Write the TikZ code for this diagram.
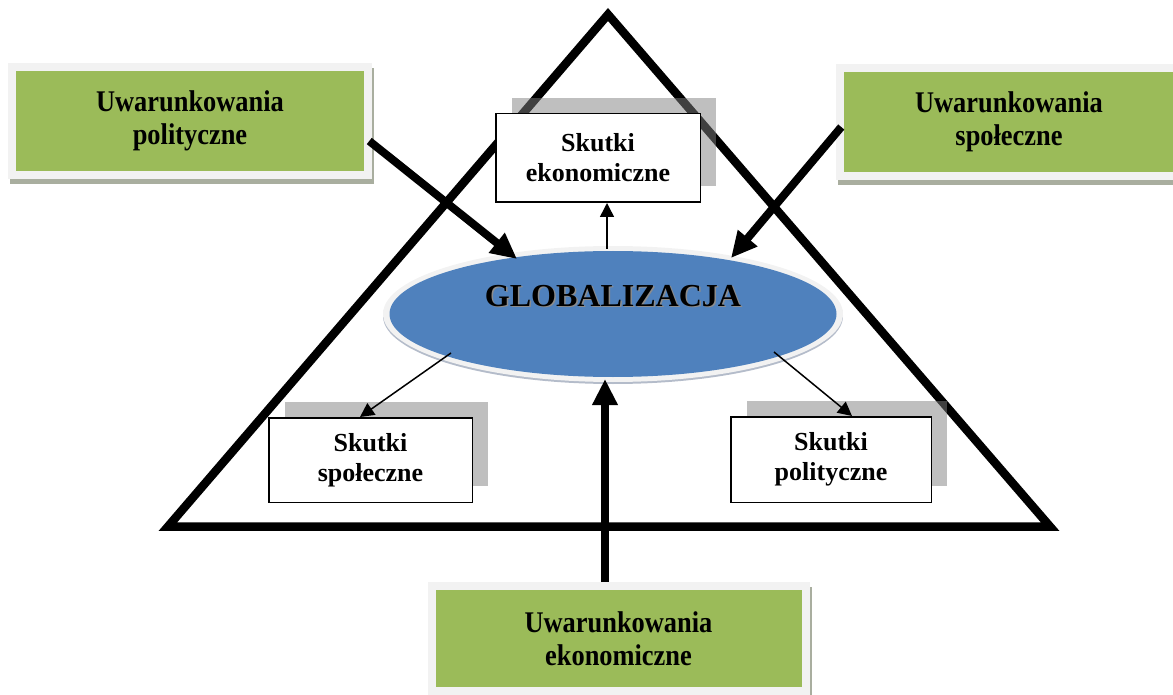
\documentclass[tikz,border=0pt]{standalone}
\usepackage{fontspec}
\setmainfont{Liberation Serif}
\newfontfamily\uwfont{Liberation Serif}[FakeStretch=0.88]
\usetikzlibrary{arrows.meta,shapes.geometric,shadows}
\definecolor{olive}{HTML}{9BBB59}
\definecolor{framegray}{HTML}{F2F2F2}
\definecolor{oliveshadow}{HTML}{A9AE9F}
\definecolor{globblue}{HTML}{4F81BD}
\definecolor{ringshadow}{HTML}{B4BCCA}
\begin{document}
\begin{tikzpicture}[x=1pt,y=-1pt,
  cond/.style={draw=framegray, line width=8pt, fill=olive, inner sep=0pt,
    align=center, font=\uwfont\bfseries\fontsize{30}{33}\selectfont,
    drop shadow={shadow xshift=2pt, shadow yshift=-5pt, fill=oliveshadow,
      draw=oliveshadow, line width=8pt, opacity=1}},
  effect/.style={draw=black, line width=1.5pt, fill=white, inner sep=0pt,
    align=center, font=\bfseries\fontsize{26}{30}\selectfont,
    drop shadow={shadow xshift=16pt, shadow yshift=16pt, fill=gray, opacity=0.5}},
  bigarrow/.style={line width=8pt, -{Triangle[length=26pt,width=24pt]}},
  smallarrow/.style={line width=1.5pt, -{Triangle[length=14pt,width=14pt]}},
  pyramid/.style={line width=8.5pt, line join=miter, miter limit=10},
  globfont/.style={font=\bfseries\fontsize{32}{36}\selectfont}
]
\useasboundingbox (0,0) rectangle (1173,695);

% pyramid outline
\coordinate (apex) at (608,14.5);
\coordinate (bright) at (1050,526.5);
\coordinate (bleft) at (168,526.5);
\draw[pyramid] (apex) -- (bright) -- (bleft) -- cycle;

% conditions (green boxes)
\node[cond, minimum width=356.5pt, minimum height=107.5pt] (upol) at (190,121) {Uwarunkowania\\polityczne};
\node[cond, minimum width=337.5pt, minimum height=107.5pt] (uspo) at (1009,122) {Uwarunkowania\\społeczne};
\node[cond, minimum width=374pt, minimum height=105pt] (ueko) at (618.5,638.5) {Uwarunkowania\\ekonomiczne};

% effects (white boxes)
\node[effect, minimum width=204.5pt, minimum height=88.5pt] (seko) at (598,158) {Skutki\\ekonomiczne};
\node[effect, minimum width=203.5pt, minimum height=84.5pt] (sspo) at (370.5,460) {Skutki\\społeczne};
\node[effect, minimum width=200.5pt, minimum height=85.5pt] (spol) at (831,459.5) {Skutki\\polityczne};

% central ellipse
\node[ellipse, fill=ringshadow, inner sep=0pt, minimum width=460pt, minimum height=136pt] (ringsh) at (613,316) {};
\node[ellipse, fill=framegray, inner sep=0pt, minimum width=460pt, minimum height=136pt] (ring) at (613,314) {};
\node[ellipse, fill=globblue, inner sep=0pt, minimum width=447pt, minimum height=126pt] (glob) at (613,314) {};
\node[globfont, anchor=base, text=black!45] (gshadow) at (614.5,307.5) {GLOBALIZACJA};
\node[globfont, anchor=base] (gtext) at (613,306) {GLOBALIZACJA};

% arrow end points
\coordinate (polstart) at ([shift={(-3pt,-20pt)}]upol.east);
\coordinate (spostart) at ([shift={(5pt,-5pt)}]uspo.west);
\coordinate (ekostart) at ([xshift=-13.5pt]ueko.north);
\coordinate (tipL) at ([shift={(-96pt,55pt)}]glob.center);
\coordinate (tipR) at ([shift={(118pt,56pt)}]glob.center);
\coordinate (tipB) at ([shift={(-8pt,-65pt)}]glob.center);
\coordinate (outT) at ([shift={(-6pt,65pt)}]glob.center);
\coordinate (outL) at ([shift={(-162pt,-39pt)}]glob.center);
\coordinate (outR) at ([shift={(161pt,-38pt)}]glob.center);

% influences on globalisation
\draw[bigarrow] (polstart) -- (tipL);
\draw[bigarrow] (spostart) -- (tipR);
\draw[bigarrow] (ekostart) -- (tipB);

% effects of globalisation
\draw[smallarrow] (outT) -- ([xshift=9pt]seko.south);
\draw[smallarrow] (outL) -- ([xshift=-10.5pt]sspo.north);
\draw[smallarrow] (outR) -- ([xshift=21pt]spol.north);
\end{tikzpicture}
\end{document}
